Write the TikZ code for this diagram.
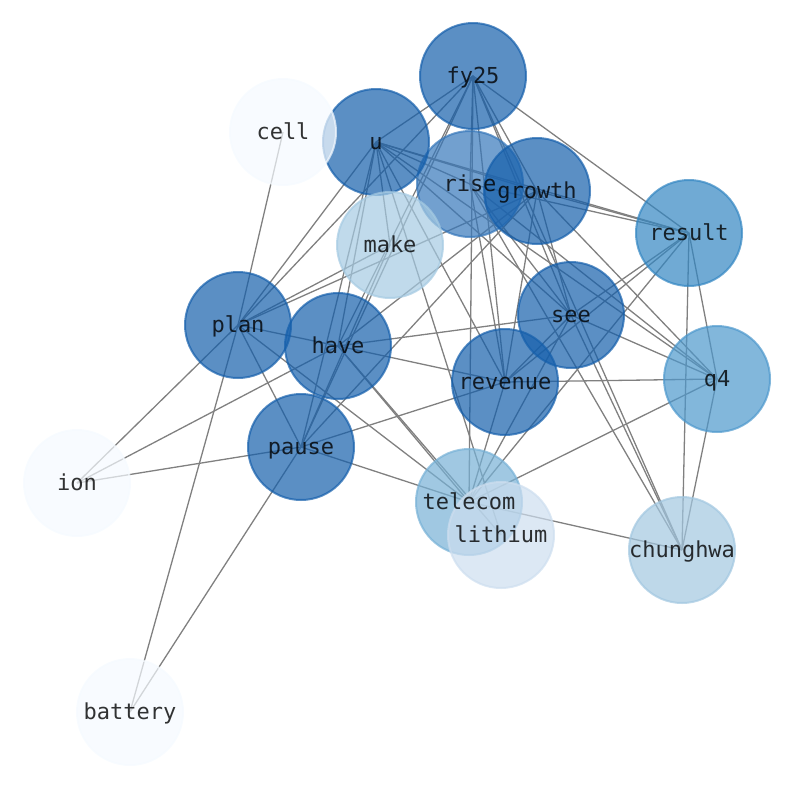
\documentclass[tikz,border=0pt]{standalone}
\usepackage{fontspec}
\setmonofont{DejaVu Sans Mono}
\usepackage{xcolor}
\usepackage{tikz}
\pgfdeclarelayer{edges}
\pgfdeclarelayer{labels}
\pgfsetlayers{edges,main,labels}

% node colours (Blues map)
\definecolor{bluedark}{HTML}{155FAB}
\definecolor{bluerise}{HTML}{3677BA}
\definecolor{blueresult}{HTML}{3386C2}
\definecolor{blueqfour}{HTML}{4D98CC}
\definecolor{bluetele}{HTML}{77B1D6}
\definecolor{bluemake}{HTML}{A5CAE2}
\definecolor{bluechung}{HTML}{A2C7E0}
\definecolor{bluelith}{HTML}{CDDEEF}
\definecolor{bluepale}{HTML}{F5FAFF}

\tikzstyle{word} = [circle,minimum size=106pt,inner sep=0pt,line width=2pt,
  fill opacity=0.7,draw opacity=0.7]
\tikzstyle{tag} = [inner sep=0pt,text opacity=0.8,text=black,
  text height=18pt,text depth=3pt,font=\ttfamily\fontsize{22}{24}\selectfont]
\tikzstyle{link} = [draw=gray,line width=1.3pt]

\begin{document}
\begin{tikzpicture}[x=1pt,y=-1pt]
	\useasboundingbox (0,0) rectangle (794,790);
	
	% Nodes:
	% Placed at the pixel positions of the layout
	\node [word,fill=bluedark,draw=bluedark] (fy25) at (473,76) {};
	\node [word,fill=bluerise,draw=bluerise] (rise) at (470,184) {};
	\node [word,fill=bluedark,draw=bluedark] (u) at (376,142) {};
	\node [word,fill=bluepale,draw=bluepale] (cell) at (283,132) {};
	\node [word,fill=bluemake,draw=bluemake] (make) at (390,245) {};
	\node [word,fill=bluedark,draw=bluedark] (growth) at (537,191) {};
	\node [word,fill=blueresult,draw=blueresult] (result) at (689,233) {};
	\node [word,fill=bluedark,draw=bluedark] (plan) at (238,325) {};
	\node [word,fill=bluedark,draw=bluedark] (have) at (338,346) {};
	\node [word,fill=bluedark,draw=bluedark] (pause) at (301,447) {};
	\node [word,fill=bluedark,draw=bluedark] (see) at (571,315) {};
	\node [word,fill=bluedark,draw=bluedark] (revenue) at (505,382) {};
	\node [word,fill=blueqfour,draw=blueqfour] (q4) at (717,379) {};
	\node [word,fill=bluepale,draw=bluepale] (ion) at (77,483) {};
	\node [word,fill=bluetele,draw=bluetele] (telecom) at (469,502) {};
	\node [word,fill=bluelith,draw=bluelith] (lithium) at (501,535) {};
	\node [word,fill=bluechung,draw=bluechung] (chunghwa) at (682,550) {};
	\node [word,fill=bluepale,draw=bluepale] (battery) at (130,712) {};
	
	% Labels:
	% Set on top of every node
	\begin{pgfonlayer}{labels}
	\foreach \n in {fy25,rise,u,cell,make,growth,result,plan,have,pause,
		see,revenue,q4,ion,telecom,lithium,chunghwa,battery}
	{
		\node [tag] at (\n) {\n};
	}
	\end{pgfonlayer}
	
	% Edges:
	% Drawn centre to centre on a layer below the nodes
	\begin{pgfonlayer}{edges}
	\foreach \a/\b in {fy25/u,fy25/plan,fy25/have,fy25/pause,fy25/rise,fy25/growth,
		fy25/see,fy25/revenue,fy25/telecom,fy25/chunghwa,fy25/result,
		u/plan,u/have,u/pause,u/make,u/rise,u/growth,u/result,u/see,u/q4,
		u/revenue,u/lithium,cell/plan,
		plan/have,plan/pause,plan/make,plan/growth,plan/telecom,plan/ion,plan/battery,
		have/see,have/revenue,have/telecom,have/growth,have/ion,have/lithium,
		pause/ion,pause/battery,pause/revenue,pause/telecom,pause/make,pause/growth,
		rise/revenue,rise/see,rise/q4,rise/chunghwa,rise/result,
		growth/result,growth/see,growth/revenue,growth/q4,
		see/revenue,see/q4,see/result,see/telecom,see/chunghwa,
		revenue/q4,revenue/result,revenue/telecom,
		result/q4,result/chunghwa,result/telecom,
		q4/chunghwa,q4/telecom,telecom/chunghwa}
	{
		\draw [link] (\a.center) -- (\b.center);
	}
	\end{pgfonlayer}
	
\end{tikzpicture}
\end{document}
